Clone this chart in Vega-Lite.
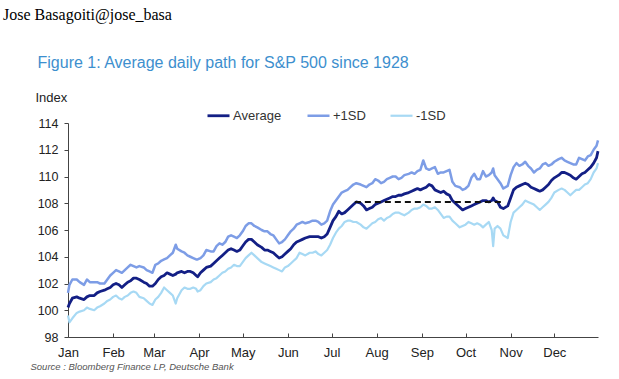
{
  "$schema": "https://vega.github.io/schema/vega-lite/v6.json",
  "width": 530,
  "height": 214,
  "autosize": {"type": "none"},
  "padding": {"left": 68, "top": 123, "right": 21, "bottom": 42},
  "background": "white",
  "title": {
    "text": "Jose Basagoiti@jose_basa",
    "anchor": "start",
    "frame": "group",
    "font": "Liberation Serif",
    "fontSize": 16,
    "fontWeight": "normal",
    "color": "#000000",
    "dx": -65,
    "offset": 31
  },
  "config": {
    "view": {"stroke": null},
    "axis": {"grid": false, "labelOverlap": false, "labelSeparation": 0, "labelFont": "Liberation Sans", "titleFont": "Liberation Sans"},
    "axisQuantitative": {"labelOverlap": false}
  },
  "datasets": {
    "paths": [
      {"date": "2021-01-01", "Average": 100.2, "+1SD": 101.3, "-1SD": 99.6},
      {"date": "2021-01-02", "Average": 100.5, "+1SD": 101.9, "-1SD": 99.1},
      {"date": "2021-01-04", "Average": 100.9, "+1SD": 102.3, "-1SD": 99.4},
      {"date": "2021-01-07", "Average": 101.0, "+1SD": 102.3, "-1SD": 99.8},
      {"date": "2021-01-09", "Average": 100.9, "+1SD": 102.1, "-1SD": 99.9},
      {"date": "2021-01-12", "Average": 100.8, "+1SD": 101.9, "-1SD": 100.0},
      {"date": "2021-01-14", "Average": 101.0, "+1SD": 102.3, "-1SD": 100.2},
      {"date": "2021-01-16", "Average": 101.1, "+1SD": 102.1, "-1SD": 100.1},
      {"date": "2021-01-19", "Average": 101.1, "+1SD": 102.1, "-1SD": 100.0},
      {"date": "2021-01-21", "Average": 101.3, "+1SD": 102.1, "-1SD": 100.2},
      {"date": "2021-01-23", "Average": 101.4, "+1SD": 102.0, "-1SD": 100.3},
      {"date": "2021-01-26", "Average": 101.5, "+1SD": 102.0, "-1SD": 100.5},
      {"date": "2021-01-28", "Average": 101.6, "+1SD": 102.3, "-1SD": 100.7},
      {"date": "2021-01-30", "Average": 101.7, "+1SD": 102.6, "-1SD": 100.8},
      {"date": "2021-02-01", "Average": 101.9, "+1SD": 102.8, "-1SD": 101.0},
      {"date": "2021-02-03", "Average": 102.0, "+1SD": 103.0, "-1SD": 101.1},
      {"date": "2021-02-05", "Average": 101.9, "+1SD": 102.9, "-1SD": 100.9},
      {"date": "2021-02-07", "Average": 101.7, "+1SD": 102.8, "-1SD": 100.8},
      {"date": "2021-02-09", "Average": 101.9, "+1SD": 103.0, "-1SD": 101.0},
      {"date": "2021-02-11", "Average": 102.1, "+1SD": 103.2, "-1SD": 101.1},
      {"date": "2021-02-13", "Average": 102.2, "+1SD": 103.4, "-1SD": 101.3},
      {"date": "2021-02-15", "Average": 102.4, "+1SD": 103.3, "-1SD": 101.4},
      {"date": "2021-02-17", "Average": 102.4, "+1SD": 103.2, "-1SD": 101.3},
      {"date": "2021-02-19", "Average": 102.3, "+1SD": 103.3, "-1SD": 101.0},
      {"date": "2021-02-22", "Average": 102.1, "+1SD": 103.2, "-1SD": 100.9},
      {"date": "2021-02-24", "Average": 102.0, "+1SD": 103.0, "-1SD": 100.7},
      {"date": "2021-02-26", "Average": 101.8, "+1SD": 102.9, "-1SD": 100.5},
      {"date": "2021-02-28", "Average": 101.8, "+1SD": 102.8, "-1SD": 100.4},
      {"date": "2021-03-02", "Average": 102.0, "+1SD": 103.4, "-1SD": 100.8},
      {"date": "2021-03-04", "Average": 102.3, "+1SD": 103.5, "-1SD": 101.0},
      {"date": "2021-03-06", "Average": 102.5, "+1SD": 103.7, "-1SD": 101.3},
      {"date": "2021-03-08", "Average": 102.6, "+1SD": 103.8, "-1SD": 101.7},
      {"date": "2021-03-10", "Average": 102.8, "+1SD": 103.9, "-1SD": 101.5},
      {"date": "2021-03-12", "Average": 102.7, "+1SD": 104.1, "-1SD": 101.3},
      {"date": "2021-03-14", "Average": 102.6, "+1SD": 104.3, "-1SD": 101.1},
      {"date": "2021-03-16", "Average": 102.7, "+1SD": 104.9, "-1SD": 100.5},
      {"date": "2021-03-17", "Average": 102.8, "+1SD": 104.6, "-1SD": 100.9},
      {"date": "2021-03-20", "Average": 102.9, "+1SD": 104.4, "-1SD": 101.5},
      {"date": "2021-03-22", "Average": 102.8, "+1SD": 104.3, "-1SD": 101.7},
      {"date": "2021-03-24", "Average": 102.9, "+1SD": 104.1, "-1SD": 101.6},
      {"date": "2021-03-26", "Average": 102.9, "+1SD": 104.0, "-1SD": 101.6},
      {"date": "2021-03-28", "Average": 102.8, "+1SD": 103.9, "-1SD": 101.7},
      {"date": "2021-03-30", "Average": 102.6, "+1SD": 103.8, "-1SD": 101.6},
      {"date": "2021-03-31", "Average": 102.5, "+1SD": 103.8, "-1SD": 101.4},
      {"date": "2021-04-02", "Average": 102.8, "+1SD": 103.9, "-1SD": 101.5},
      {"date": "2021-04-04", "Average": 103.0, "+1SD": 104.1, "-1SD": 101.8},
      {"date": "2021-04-06", "Average": 103.2, "+1SD": 104.5, "-1SD": 102.0},
      {"date": "2021-04-09", "Average": 103.3, "+1SD": 104.4, "-1SD": 102.1},
      {"date": "2021-04-11", "Average": 103.5, "+1SD": 104.4, "-1SD": 102.3},
      {"date": "2021-04-13", "Average": 103.7, "+1SD": 104.8, "-1SD": 102.4},
      {"date": "2021-04-15", "Average": 103.9, "+1SD": 105.0, "-1SD": 102.6},
      {"date": "2021-04-17", "Average": 104.1, "+1SD": 104.9, "-1SD": 102.8},
      {"date": "2021-04-19", "Average": 104.3, "+1SD": 105.1, "-1SD": 102.9},
      {"date": "2021-04-21", "Average": 104.5, "+1SD": 105.5, "-1SD": 103.1},
      {"date": "2021-04-23", "Average": 104.6, "+1SD": 105.6, "-1SD": 103.2},
      {"date": "2021-04-25", "Average": 104.5, "+1SD": 105.5, "-1SD": 103.4},
      {"date": "2021-04-27", "Average": 104.4, "+1SD": 105.4, "-1SD": 103.3},
      {"date": "2021-04-29", "Average": 104.5, "+1SD": 105.6, "-1SD": 103.3},
      {"date": "2021-05-01", "Average": 104.8, "+1SD": 105.9, "-1SD": 103.6},
      {"date": "2021-05-03", "Average": 105.1, "+1SD": 106.3, "-1SD": 103.9},
      {"date": "2021-05-05", "Average": 105.3, "+1SD": 106.5, "-1SD": 104.1},
      {"date": "2021-05-07", "Average": 105.3, "+1SD": 106.5, "-1SD": 104.3},
      {"date": "2021-05-09", "Average": 105.1, "+1SD": 106.3, "-1SD": 104.1},
      {"date": "2021-05-11", "Average": 104.9, "+1SD": 106.2, "-1SD": 103.9},
      {"date": "2021-05-14", "Average": 104.7, "+1SD": 106.0, "-1SD": 103.6},
      {"date": "2021-05-16", "Average": 104.5, "+1SD": 105.9, "-1SD": 103.5},
      {"date": "2021-05-18", "Average": 104.5, "+1SD": 105.9, "-1SD": 103.4},
      {"date": "2021-05-20", "Average": 104.4, "+1SD": 105.7, "-1SD": 103.3},
      {"date": "2021-05-22", "Average": 104.3, "+1SD": 105.6, "-1SD": 103.2},
      {"date": "2021-05-24", "Average": 104.1, "+1SD": 105.3, "-1SD": 103.1},
      {"date": "2021-05-26", "Average": 103.9, "+1SD": 105.0, "-1SD": 103.0},
      {"date": "2021-05-28", "Average": 104.0, "+1SD": 105.1, "-1SD": 102.9},
      {"date": "2021-05-30", "Average": 104.2, "+1SD": 105.3, "-1SD": 103.2},
      {"date": "2021-06-01", "Average": 104.4, "+1SD": 105.6, "-1SD": 103.3},
      {"date": "2021-06-03", "Average": 104.6, "+1SD": 105.9, "-1SD": 103.5},
      {"date": "2021-06-05", "Average": 104.9, "+1SD": 106.1, "-1SD": 103.7},
      {"date": "2021-06-07", "Average": 105.1, "+1SD": 106.4, "-1SD": 103.9},
      {"date": "2021-06-09", "Average": 105.2, "+1SD": 106.5, "-1SD": 104.3},
      {"date": "2021-06-11", "Average": 105.3, "+1SD": 106.6, "-1SD": 104.2},
      {"date": "2021-06-13", "Average": 105.4, "+1SD": 106.5, "-1SD": 104.1},
      {"date": "2021-06-16", "Average": 105.5, "+1SD": 106.6, "-1SD": 104.3},
      {"date": "2021-06-18", "Average": 105.5, "+1SD": 106.7, "-1SD": 104.3},
      {"date": "2021-06-20", "Average": 105.5, "+1SD": 106.7, "-1SD": 104.4},
      {"date": "2021-06-22", "Average": 105.5, "+1SD": 106.6, "-1SD": 104.2},
      {"date": "2021-06-24", "Average": 105.4, "+1SD": 106.4, "-1SD": 104.1},
      {"date": "2021-06-26", "Average": 105.5, "+1SD": 106.5, "-1SD": 104.3},
      {"date": "2021-06-28", "Average": 105.7, "+1SD": 106.7, "-1SD": 104.5},
      {"date": "2021-06-30", "Average": 106.2, "+1SD": 107.4, "-1SD": 104.9},
      {"date": "2021-07-02", "Average": 106.7, "+1SD": 107.9, "-1SD": 105.4},
      {"date": "2021-07-04", "Average": 107.0, "+1SD": 108.2, "-1SD": 105.8},
      {"date": "2021-07-06", "Average": 107.4, "+1SD": 108.5, "-1SD": 106.1},
      {"date": "2021-07-08", "Average": 107.2, "+1SD": 108.8, "-1SD": 106.3},
      {"date": "2021-07-10", "Average": 107.3, "+1SD": 108.9, "-1SD": 106.6},
      {"date": "2021-07-12", "Average": 107.5, "+1SD": 109.0, "-1SD": 106.7},
      {"date": "2021-07-14", "Average": 107.7, "+1SD": 109.2, "-1SD": 106.7},
      {"date": "2021-07-16", "Average": 107.9, "+1SD": 109.4, "-1SD": 106.6},
      {"date": "2021-07-18", "Average": 108.1, "+1SD": 109.5, "-1SD": 106.6},
      {"date": "2021-07-21", "Average": 108.0, "+1SD": 109.4, "-1SD": 106.4},
      {"date": "2021-07-23", "Average": 107.8, "+1SD": 109.3, "-1SD": 106.2},
      {"date": "2021-07-25", "Average": 107.5, "+1SD": 109.2, "-1SD": 106.1},
      {"date": "2021-07-27", "Average": 107.6, "+1SD": 109.4, "-1SD": 106.3},
      {"date": "2021-07-29", "Average": 107.7, "+1SD": 109.5, "-1SD": 106.5},
      {"date": "2021-07-31", "Average": 107.9, "+1SD": 109.8, "-1SD": 106.6},
      {"date": "2021-08-02", "Average": 108.0, "+1SD": 109.7, "-1SD": 106.8},
      {"date": "2021-08-04", "Average": 108.1, "+1SD": 109.5, "-1SD": 106.9},
      {"date": "2021-08-06", "Average": 108.2, "+1SD": 109.6, "-1SD": 106.7},
      {"date": "2021-08-08", "Average": 108.3, "+1SD": 109.8, "-1SD": 106.9},
      {"date": "2021-08-10", "Average": 108.4, "+1SD": 109.9, "-1SD": 107.0},
      {"date": "2021-08-12", "Average": 108.5, "+1SD": 110.0, "-1SD": 107.2},
      {"date": "2021-08-14", "Average": 108.5, "+1SD": 110.0, "-1SD": 107.3},
      {"date": "2021-08-16", "Average": 108.6, "+1SD": 109.8, "-1SD": 107.3},
      {"date": "2021-08-18", "Average": 108.6, "+1SD": 109.9, "-1SD": 107.2},
      {"date": "2021-08-20", "Average": 108.7, "+1SD": 110.1, "-1SD": 107.1},
      {"date": "2021-08-23", "Average": 108.8, "+1SD": 110.2, "-1SD": 107.3},
      {"date": "2021-08-25", "Average": 108.9, "+1SD": 110.3, "-1SD": 107.5},
      {"date": "2021-08-27", "Average": 109.0, "+1SD": 110.2, "-1SD": 107.6},
      {"date": "2021-08-29", "Average": 109.1, "+1SD": 110.4, "-1SD": 107.6},
      {"date": "2021-08-31", "Average": 109.0, "+1SD": 110.5, "-1SD": 107.7},
      {"date": "2021-09-02", "Average": 109.1, "+1SD": 111.2, "-1SD": 107.9},
      {"date": "2021-09-04", "Average": 109.2, "+1SD": 110.6, "-1SD": 107.8},
      {"date": "2021-09-06", "Average": 109.4, "+1SD": 110.5, "-1SD": 107.6},
      {"date": "2021-09-08", "Average": 109.3, "+1SD": 110.6, "-1SD": 107.6},
      {"date": "2021-09-10", "Average": 109.0, "+1SD": 110.7, "-1SD": 107.7},
      {"date": "2021-09-12", "Average": 108.9, "+1SD": 110.2, "-1SD": 107.5},
      {"date": "2021-09-14", "Average": 108.8, "+1SD": 110.3, "-1SD": 107.2},
      {"date": "2021-09-16", "Average": 108.9, "+1SD": 110.3, "-1SD": 106.9},
      {"date": "2021-09-18", "Average": 108.7, "+1SD": 110.4, "-1SD": 107.0},
      {"date": "2021-09-20", "Average": 108.6, "+1SD": 110.5, "-1SD": 107.0},
      {"date": "2021-09-22", "Average": 108.2, "+1SD": 109.6, "-1SD": 106.7},
      {"date": "2021-09-24", "Average": 108.0, "+1SD": 109.3, "-1SD": 106.5},
      {"date": "2021-09-27", "Average": 107.7, "+1SD": 109.2, "-1SD": 106.2},
      {"date": "2021-09-29", "Average": 107.5, "+1SD": 109.0, "-1SD": 106.3},
      {"date": "2021-10-01", "Average": 107.6, "+1SD": 109.1, "-1SD": 106.4},
      {"date": "2021-10-03", "Average": 107.7, "+1SD": 109.3, "-1SD": 106.6},
      {"date": "2021-10-05", "Average": 107.8, "+1SD": 109.9, "-1SD": 106.5},
      {"date": "2021-10-07", "Average": 107.9, "+1SD": 110.2, "-1SD": 106.4},
      {"date": "2021-10-09", "Average": 108.0, "+1SD": 109.8, "-1SD": 106.5},
      {"date": "2021-10-11", "Average": 108.1, "+1SD": 109.8, "-1SD": 106.4},
      {"date": "2021-10-13", "Average": 108.2, "+1SD": 110.4, "-1SD": 106.2},
      {"date": "2021-10-15", "Average": 108.2, "+1SD": 110.0, "-1SD": 106.4},
      {"date": "2021-10-17", "Average": 108.1, "+1SD": 110.1, "-1SD": 106.6},
      {"date": "2021-10-19", "Average": 108.2, "+1SD": 110.3, "-1SD": 106.0},
      {"date": "2021-10-20", "Average": 108.4, "+1SD": 110.6, "-1SD": 104.8},
      {"date": "2021-10-21", "Average": 108.2, "+1SD": 110.1, "-1SD": 106.1},
      {"date": "2021-10-23", "Average": 108.1, "+1SD": 109.8, "-1SD": 106.3},
      {"date": "2021-10-25", "Average": 107.7, "+1SD": 109.5, "-1SD": 106.1},
      {"date": "2021-10-27", "Average": 107.6, "+1SD": 109.1, "-1SD": 105.6},
      {"date": "2021-10-30", "Average": 107.8, "+1SD": 109.3, "-1SD": 105.4},
      {"date": "2021-11-01", "Average": 108.4, "+1SD": 110.1, "-1SD": 106.6},
      {"date": "2021-11-03", "Average": 109.0, "+1SD": 110.7, "-1SD": 107.3},
      {"date": "2021-11-05", "Average": 109.2, "+1SD": 111.0, "-1SD": 107.5},
      {"date": "2021-11-07", "Average": 109.3, "+1SD": 110.8, "-1SD": 107.7},
      {"date": "2021-11-09", "Average": 109.4, "+1SD": 110.9, "-1SD": 107.9},
      {"date": "2021-11-11", "Average": 109.5, "+1SD": 111.1, "-1SD": 108.2},
      {"date": "2021-11-13", "Average": 109.4, "+1SD": 110.8, "-1SD": 108.1},
      {"date": "2021-11-15", "Average": 109.2, "+1SD": 110.6, "-1SD": 108.0},
      {"date": "2021-11-17", "Average": 109.1, "+1SD": 110.3, "-1SD": 107.9},
      {"date": "2021-11-19", "Average": 109.0, "+1SD": 110.5, "-1SD": 107.7},
      {"date": "2021-11-21", "Average": 108.9, "+1SD": 110.6, "-1SD": 107.5},
      {"date": "2021-11-23", "Average": 109.0, "+1SD": 110.9, "-1SD": 107.7},
      {"date": "2021-11-25", "Average": 109.2, "+1SD": 111.0, "-1SD": 107.9},
      {"date": "2021-11-27", "Average": 109.4, "+1SD": 110.8, "-1SD": 108.1},
      {"date": "2021-11-29", "Average": 109.7, "+1SD": 110.9, "-1SD": 108.4},
      {"date": "2021-12-01", "Average": 109.9, "+1SD": 111.1, "-1SD": 108.8},
      {"date": "2021-12-04", "Average": 110.1, "+1SD": 111.3, "-1SD": 109.0},
      {"date": "2021-12-06", "Average": 110.3, "+1SD": 111.4, "-1SD": 109.1},
      {"date": "2021-12-08", "Average": 110.3, "+1SD": 111.2, "-1SD": 109.0},
      {"date": "2021-12-10", "Average": 110.2, "+1SD": 111.1, "-1SD": 108.8},
      {"date": "2021-12-12", "Average": 110.1, "+1SD": 111.0, "-1SD": 108.6},
      {"date": "2021-12-14", "Average": 109.9, "+1SD": 110.9, "-1SD": 108.8},
      {"date": "2021-12-16", "Average": 109.8, "+1SD": 110.9, "-1SD": 109.0},
      {"date": "2021-12-18", "Average": 110.0, "+1SD": 111.4, "-1SD": 109.0},
      {"date": "2021-12-20", "Average": 110.2, "+1SD": 111.3, "-1SD": 109.2},
      {"date": "2021-12-22", "Average": 110.3, "+1SD": 111.2, "-1SD": 109.4},
      {"date": "2021-12-24", "Average": 110.5, "+1SD": 111.5, "-1SD": 109.5},
      {"date": "2021-12-26", "Average": 110.7, "+1SD": 111.6, "-1SD": 109.8},
      {"date": "2021-12-28", "Average": 111.0, "+1SD": 112.0, "-1SD": 110.3},
      {"date": "2021-12-30", "Average": 111.4, "+1SD": 112.3, "-1SD": 110.6},
      {"date": "2021-12-31", "Average": 111.9, "+1SD": 112.7, "-1SD": 111.0}
    ],
    "flat": [
      {"date": "2021-07-17", "value": 108.1},
      {"date": "2021-10-28", "value": 108.1}
    ]
  },
  "encoding": {
    "y": {
      "field": "value",
      "type": "quantitative",
      "scale": {"domain": [98, 114], "nice": false, "zero": false},
      "axis": {
        "values": [98, 100, 102, 104, 106, 108, 110, 112, 114],
        "labelOverlap": false,
        "labelSeparation": 0,
        "tickSize": 4,
        "labelPadding": 6,
        "labelFontSize": 12.5,
        "labelColor": "#222222",
        "domainColor": "#444444",
        "tickColor": "#444444",
        "title": "Index",
        "titleAngle": 0,
        "titleX": -33,
        "titleY": -26,
        "titleAlign": "left",
        "titleBaseline": "middle",
        "titleFontSize": 13,
        "titleFontWeight": "normal",
        "titleColor": "#222222"
      }
    }
  },
  "layer": [
    {
      "data": {"name": "paths"},
      "transform": [{"fold": ["-1SD", "+1SD", "Average"], "as": ["series", "value"]}],
      "mark": {"type": "line", "strokeJoin": "round"},
      "encoding": {
        "x": {
          "field": "date",
          "type": "temporal",
          "scale": {"type": "utc", "domain": ["2021-01-01", "2021-12-31"]},
          "axis": {
            "orient": "bottom",
            "values": [
              {"year": 2021, "month": 1, "date": 1, "utc": true},
              {"year": 2021, "month": 2, "date": 1, "utc": true},
              {"year": 2021, "month": 3, "date": 1, "utc": true},
              {"year": 2021, "month": 4, "date": 1, "utc": true},
              {"year": 2021, "month": 5, "date": 1, "utc": true},
              {"year": 2021, "month": 6, "date": 1, "utc": true},
              {"year": 2021, "month": 7, "date": 1, "utc": true},
              {"year": 2021, "month": 8, "date": 1, "utc": true},
              {"year": 2021, "month": 9, "date": 1, "utc": true},
              {"year": 2021, "month": 10, "date": 1, "utc": true},
              {"year": 2021, "month": 11, "date": 1, "utc": true},
              {"year": 2021, "month": 12, "date": 1, "utc": true}
            ],
            "labelExpr": "utcFormat(datum.value, '%b')",
            "labelOverlap": false,
            "tickSize": -4,
            "labelPadding": 13,
            "labelFontSize": 13,
            "labelColor": "#222222",
            "labelFlush": false,
            "domainColor": "#444444",
            "tickColor": "#444444",
            "title": "Source : Bloomberg Finance LP, Deutsche Bank",
            "titleX": -38,
            "titleY": 29,
            "titleAlign": "left",
            "titleBaseline": "middle",
            "titleFontSize": 9.5,
            "titleFontStyle": "italic",
            "titleFontWeight": "normal",
            "titleColor": "#555555"
          }
        },
        "color": {
          "field": "series",
          "type": "nominal",
          "scale": {"domain": ["Average", "+1SD", "-1SD"], "range": ["#131f85", "#7d9de6", "#a7d9f4"]},
          "legend": {
            "orient": "none",
            "legendX": 138,
            "legendY": -20,
            "direction": "horizontal",
            "title": null,
            "padding": 0,
            "symbolType": "stroke",
            "symbolSize": 484,
            "symbolStrokeWidth": 2.5,
            "labelFont": "Liberation Sans",
            "labelFontSize": 13,
            "labelColor": "#333333",
            "labelOffset": 2,
            "columnPadding": 20
          }
        },
        "strokeWidth": {
          "field": "series",
          "type": "nominal",
          "scale": {"domain": ["Average", "+1SD", "-1SD"], "range": [2.8, 2.2, 2.2]},
          "legend": null
        }
      }
    },
    {
      "data": {"name": "flat"},
      "mark": {"type": "line", "color": "#111111", "strokeDash": [6, 4], "strokeWidth": 2},
      "encoding": {
        "x": {
          "field": "date",
          "type": "temporal",
          "axis": {
            "orient": "top",
            "domain": false,
            "ticks": false,
            "labels": false,
            "title": "Figure 1: Average daily path for S&P 500 since 1928",
            "titleX": -31,
            "titleY": -61,
            "titleAlign": "left",
            "titleBaseline": "middle",
            "titleFont": "Liberation Sans",
            "titleFontSize": 16,
            "titleFontWeight": "normal",
            "titleColor": "#3d8fce"
          }
        }
      }
    }
  ],
  "resolve": {"axis": {"x": "independent"}}
}
